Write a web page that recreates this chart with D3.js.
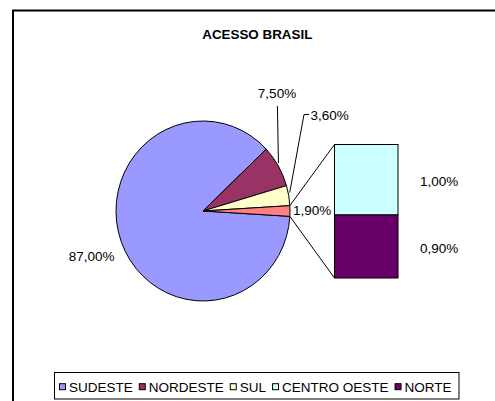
<!DOCTYPE html>
<html><head><meta charset="utf-8">
<script src="https://cdn.jsdelivr.net/npm/d3@7"></script>
<style>
body{margin:0;background:#fff}
svg{display:block}
text{font-family:"Liberation Sans",Arial,sans-serif;fill:#000}
</style></head>
<body><svg id="c" width="495" height="401"></svg>
<script>
// ---- data ----
const title = "ACESSO BRASIL";
const pieCategories = ["SUDESTE", "NORDESTE", "SUL", "OUTROS"];
const pieValues = [87.0, 7.5, 3.6, 1.9];
const pieLabels = ["87,00%", "7,50%", "3,60%", "1,90%"];
const barCategories = ["NORTE", "CENTRO OESTE"];
const barValues = [0.9, 1.0];
const barLabels = ["0,90%", "1,00%"];
const legendCategories = ["SUDESTE", "NORDESTE", "SUL", "CENTRO OESTE", "NORTE"];
const colors = {
  "SUDESTE": "#9999FF", "NORDESTE": "#993366", "SUL": "#FFFFCC",
  "CENTRO OESTE": "#CCFFFF", "NORTE": "#660066", "OUTROS": "#FF8080"
};

// ---- layout ----
const FS = "13.5px";
const svg = d3.select("#c");
const cx = 203, cy = 211, rx = 87, ry = 90;

// chart area border (clipped on right/bottom)
svg.append("rect").attr("x", 13).attr("y", 10.5).attr("width", 600).attr("height", 600)
  .attr("fill", "none").attr("stroke", "#000").attr("stroke-width", 2);

svg.append("text").attr("x", 257.3).attr("y", 34).attr("dy", "0.35em")
  .attr("text-anchor", "middle").style("font-weight", "bold").style("font-size", "13.4px")
  .text(title);

const total = d3.sum(pieValues);
const otherFrac = pieValues[pieValues.length - 1] / total;
const start = Math.PI / 2 + otherFrac * Math.PI - 2 * Math.PI;
const pie = d3.pie().sort(null).value(d => d).startAngle(start).endAngle(start + 2 * Math.PI);
const arcs = pie(pieValues);
const arc = d3.arc().innerRadius(0).outerRadius(rx);

const pg = svg.append("g").attr("transform", `translate(${cx},${cy}) scale(1,${ry / rx})`);
pg.selectAll("path").data(arcs).join("path")
  .attr("d", arc)
  .attr("fill", (d, i) => colors[pieCategories[i]])
  .attr("stroke", "#000").attr("stroke-width", 1)
  .attr("vector-effect", "non-scaling-stroke")
  .attr("stroke-linejoin", "round");

const pt = a => [cx + rx * Math.sin(a), cy - ry * Math.cos(a)];

// bar of "other"
const barX0 = 334.5, barX1 = 398;
const y = d3.scaleLinear().domain([0, d3.sum(barValues)]).range([278, 144.5]);
const cum = d3.cumsum(barValues);
const segs = barValues.map((v, i) => ({ cat: barCategories[i], lab: barLabels[i], y0: cum[i] - v, y1: cum[i] }));

const oth = arcs[arcs.length - 1];
const pTop = pt(oth.startAngle), pBot = pt(oth.endAngle);
svg.append("line").attr("x1", pTop[0]).attr("y1", pTop[1]).attr("x2", barX0).attr("y2", y(d3.sum(barValues)))
  .attr("stroke", "#000");
svg.append("line").attr("x1", pBot[0]).attr("y1", pBot[1]).attr("x2", barX0).attr("y2", y(0))
  .attr("stroke", "#000");

svg.selectAll("rect.seg").data(segs).join("rect").attr("class", "seg")
  .attr("x", barX0).attr("width", barX1 - barX0)
  .attr("y", d => y(d.y1)).attr("height", d => y(d.y0) - y(d.y1))
  .attr("fill", d => colors[d.cat]).attr("stroke", "#000");

svg.selectAll("text.bl").data(segs).join("text").attr("class", "bl")
  .attr("x", 420).attr("y", d => (y(d.y0) + y(d.y1)) / 2 + 1.5).attr("dy", "0.35em")
  .style("font-size", FS).text(d => d.lab);

// pie labels with leader lines
const mid = d => (d.startAngle + d.endAngle) / 2;
const pN = pt(mid(arcs[1]));
svg.append("path").attr("d", `M${pN[0]},${pN[1] - 3}L${pN[0] - 1},106`).attr("fill", "none").attr("stroke", "#000");
svg.append("text").attr("x", 277).attr("y", 93).attr("dy", "0.35em").attr("text-anchor", "middle")
  .style("font-size", FS).text(pieLabels[1]);

const pS = pt(mid(arcs[2]));
svg.append("path").attr("d", `M${pS[0] + 1},${pS[1] - 3}L304,114.5L309,114.5`).attr("fill", "none").attr("stroke", "#000");
svg.append("text").attr("x", 310.5).attr("y", 115).attr("dy", "0.35em")
  .style("font-size", FS).text(pieLabels[2]);

svg.append("text").attr("x", 293).attr("y", 210).attr("dy", "0.35em")
  .style("font-size", FS).text(pieLabels[3]);

svg.append("text").attr("x", 114.5).attr("y", 256.5).attr("dy", "0.35em").attr("text-anchor", "end")
  .style("font-size", FS).text(pieLabels[0]);

// legend
const lg = svg.append("g");
lg.append("rect").attr("x", 54.5).attr("y", 372.5).attr("width", 404.5).attr("height", 26.5)
  .attr("fill", "#fff").attr("stroke", "#000");
let lx = 59;
const ly = 386.7;
legendCategories.forEach(c => {
  lg.append("rect").attr("x", lx + 0.5).attr("y", ly - 3).attr("width", 6).attr("height", 6)
    .attr("fill", colors[c]).attr("stroke", "#000");
  const t = lg.append("text").attr("x", lx + 10).attr("y", ly + 0.5).attr("dy", "0.35em")
    .style("font-size", FS).text(c);
  lx = lx + 10 + t.node().getComputedTextLength() + 6;
});
</script></body></html>
